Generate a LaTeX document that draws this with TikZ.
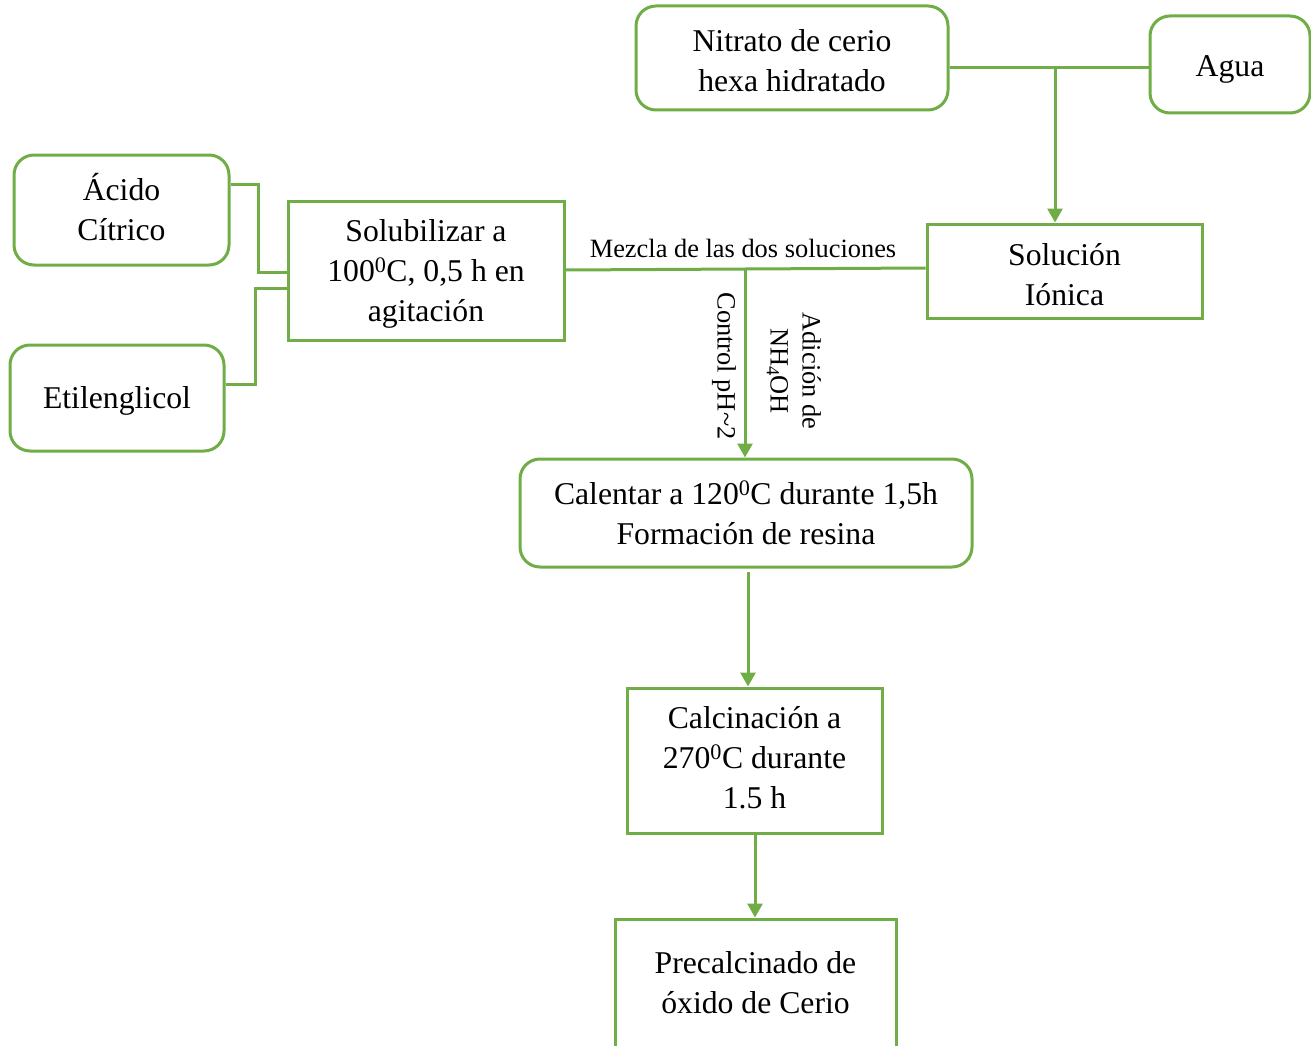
\documentclass[tikz,border=0pt]{standalone}
\usepackage{fontspec}
\setmainfont{Liberation Serif}
\usetikzlibrary{arrows.meta}
\definecolor{leaf}{HTML}{70AD47}
\tikzset{
  base/.style={draw=leaf, line width=3pt, inner sep=0pt},
  roundbox/.style={base, rounded corners=20pt},
  sqbox/.style={base},
  txt/.style={inner sep=0pt, align=center, font=\fontsize{31.7}{40}\selectfont, text=black},
  link/.style={draw=leaf, line width=3pt},
  arr/.style={link, -{Triangle[width=15pt,length=14pt]}},
  small/.style={font=\fontsize{26.4}{32}\selectfont, inner sep=0pt, align=center}
}
\begin{document}
\begin{tikzpicture}[x=1pt, y=-1pt]
\useasboundingbox (0,0) rectangle (1311,1046);

% process boxes
\node[roundbox, minimum width=312pt, minimum height=104pt] (nitrato) at (792,58) {};
\node[roundbox, minimum width=160pt, minimum height=97pt] (agua) at (1230,64.5) {};
\node[roundbox, minimum width=215pt, minimum height=110pt] (acido) at (121.5,210) {};
\node[roundbox, minimum width=214pt, minimum height=106pt] (etil) at (117,398) {};
\node[sqbox, minimum width=276pt, minimum height=139pt] (solub) at (426,270.5) {};
\node[sqbox, minimum width=275pt, minimum height=94pt] (solucion) at (1064.5,271) {};
\node[roundbox, minimum width=452pt, minimum height=108pt] (calentar) at (746,513) {};
\node[sqbox, minimum width=255pt, minimum height=145pt] (calcin) at (754.5,760.5) {};
\node[sqbox, minimum width=281pt, minimum height=130pt] (precal) at (755.5,984) {};

% box texts
\node[txt] (tnitrato) at ([yshift=-3pt]nitrato.center) {Nitrato de cerio\\hexa hidratado};
\node[txt] (tagua) at ([yshift=-5pt]agua.center) {Agua};
\node[txt] (tacido) at ([yshift=3pt]acido.center) {Ácido\\Cítrico};
\node[txt] (tetil) at ([yshift=-3pt]etil.center) {Etilenglicol};
\node[txt] (tsolub) at ([yshift=-3.5pt]solub.center) {Solubilizar a\\100\textsuperscript{0}C, 0,5 h en\\agitación};
\node[txt] (tsolucion) at ([yshift=-4pt]solucion.center) {Solución\\Iónica};
\node[txt] (tcalentar) at (calentar.center) {Calentar a 120\textsuperscript{0}C durante 1,5h\\Formación de resina};
\node[txt] (tcalcin) at ([yshift=3pt]calcin.center) {Calcinación a\\270\textsuperscript{0}C durante\\1.5 h};
\node[txt] (tprecal) at ([yshift=1pt]precal.center) {Precalcinado de\\óxido de Cerio};

% junction points
\coordinate (j1) at (1055,68);
\coordinate (j2) at (745,270);
\coordinate (m1) at (258,272);
\coordinate (m2) at (255,288);

% water and cerium nitrate feed the ionic solution
\draw[link] (nitrato.east |- j1) -- (agua.west |- j1);
\draw[arr] (j1) -- (solucion.north -| j1);

% citric acid and ethylene glycol into the solubilizing step
\draw[link] (acido.east |- 0,184) -| (m1) -- (solub.west |- m1);
\draw[link] (etil.east |- 0,384) -| (m2) -- (solub.west |- m2);

% mixing of the two solutions
\draw[link] (solub.east |- j2) -- (solucion.west |- 0,268);
\draw[arr] (j2) -- (calentar.north -| j2);

\draw[arr] ([yshift=-3pt]calentar.south -| 748,0) -- (calcin.north -| 748,0);
\draw[arr] (calcin.south -| 755,0) -- (precal.north -| 755,0);

% labels on the mixing line
\node[small] (mezcla) at (743,248) {Mezcla de las dos soluciones};
\node[small, rotate=-90] (ph) at (724,366) {Control pH\textasciitilde2};
\node[small, rotate=-90] (nh4) at (794,371) {Adición de\\NH\textsubscript{4}OH};
\end{tikzpicture}
\end{document}
